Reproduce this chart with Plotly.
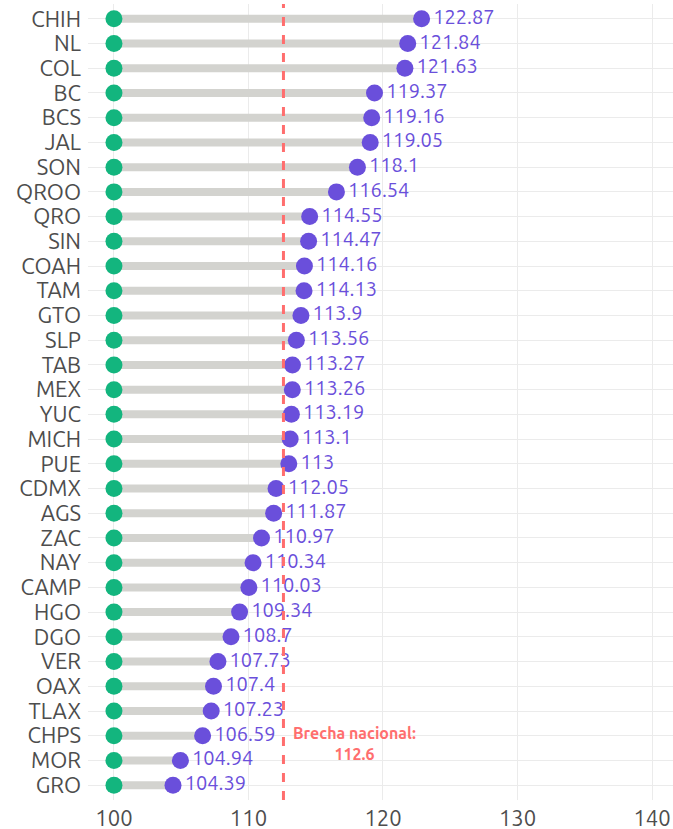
import plotly.graph_objects as go

states = ["CHIH","NL","COL","BC","BCS","JAL","SON","QROO","QRO","SIN","COAH","TAM","GTO","SLP","TAB","MEX","YUC","MICH","PUE","CDMX","AGS","ZAC","NAY","CAMP","HGO","DGO","VER","OAX","TLAX","CHPS","MOR","GRO"]
values = [122.87,121.84,121.63,119.37,119.16,119.05,118.1,116.54,114.55,114.47,114.16,114.13,113.9,113.56,113.27,113.26,113.19,113.1,113,112.05,111.87,110.97,110.34,110.03,109.34,108.7,107.73,107.4,107.23,106.59,104.94,104.39]
base = 100
national = 112.6
x_ticks = [100, 110, 120, 130, 140]

FONT = "Ubuntu, Noto Sans, sans-serif"
GREEN = "#13B57E"
PURPLE = "#6A4FDB"
GREY = "#D3D3CF"
RED = "#FF6E6E"

fig = go.Figure()
sx, sy = [], []
for s, v in zip(states, values):
    sx += [base, v, None]
    sy += [s, s, None]
fig.add_trace(go.Scatter(x=sx, y=sy, mode="lines", line=dict(color=GREY, width=8), hoverinfo="skip",
                         showlegend=False, cliponaxis=False))
fig.add_trace(go.Scatter(x=[base]*len(states), y=states, mode="markers", marker=dict(color=GREEN, size=17),
                         showlegend=False, cliponaxis=False))
fig.add_trace(go.Scatter(x=values, y=states, mode="markers+text", marker=dict(color=PURPLE, size=17),
                         text=[f"{v:g}" for v in values], textposition="middle right",
                         textfont=dict(color=PURPLE, size=20, family=FONT), showlegend=False, cliponaxis=False))

fig.add_shape(type="line", x0=national, x1=national, y0=0, y1=1, yref="paper", xref="x",
              line=dict(color=RED, width=3, dash="dash"), layer="above")
fig.add_annotation(x=117.9, y=1.68, xref="x", yref="y", text="<b>Brecha nacional:</b><br><b>112.6</b>",
                   showarrow=False, font=dict(color=RED, size=16, family=FONT), align="center")

fig.update_xaxes(range=[98.07, 141.56], tickmode="array", tickvals=x_ticks, showgrid=True, gridcolor="#EBEBEB", gridwidth=1,
                 zeroline=False, tickfont=dict(size=22, color="#4D4D4D", family=FONT), ticks="", showline=False,
                 automargin=False, ticklabelstandoff=3)
fig.update_yaxes(categoryorder="array", categoryarray=states[::-1], tickmode="array", tickvals=states,
                 range=[-0.6, 31.6],
                 showgrid=True, gridcolor="#EBEBEB", gridwidth=1, zeroline=False,
                 tickfont=dict(size=22, color="#4D4D4D", family=FONT), ticks="", ticklabelstandoff=6,
                 automargin=False)
fig.update_layout(width=673, height=829, margin=dict(l=88, r=0, t=4, b=29),
                  plot_bgcolor="white", paper_bgcolor="white", font=dict(family=FONT))
fig.write_html("out.html", config={"displayModeBar": False},
               post_script="document.body.style.margin='0';")
